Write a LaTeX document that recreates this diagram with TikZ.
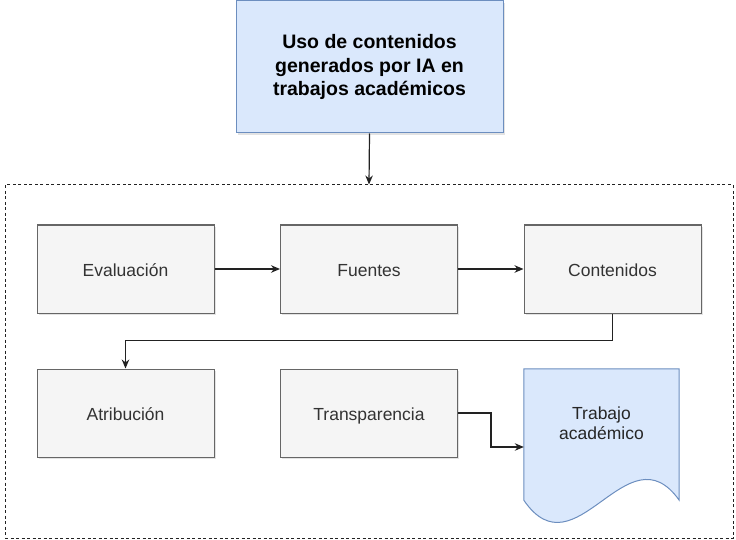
\documentclass[tikz,border=0pt]{standalone}
\usepackage{fontspec}
\setmainfont{Liberation Sans}
\usetikzlibrary{arrows.meta,shadows,calc,backgrounds}
\definecolor{bluefill}{HTML}{DAE8FC}
\definecolor{bluestroke}{HTML}{6C8EBF}
\definecolor{grayfill}{HTML}{F5F5F5}
\definecolor{graystroke}{HTML}{666666}
\definecolor{graytext}{HTML}{333333}
\definecolor{linecol}{HTML}{222222}
\tikzset{
  myshadow/.style={drop shadow={opacity=0.22, shadow xshift=1.8pt, shadow yshift=-1.8pt}},
  titlebox/.style={draw=bluestroke, fill=bluefill, line width=1pt, minimum width=267pt, minimum height=132pt,
    align=center, font=\fontsize{19.5}{23.5}\selectfont\bfseries, text=black, myshadow},
  stepbox/.style={draw=graystroke, fill=grayfill, line width=1pt, minimum width=177pt, minimum height=88pt,
    text height=16pt, text depth=2pt,
    align=center, font=\fontsize{17.5}{20}\selectfont, text=graytext, myshadow},
  frame/.style={draw=linecol, dash pattern=on 3pt off 2.5pt, line width=1pt, minimum width=728pt, minimum height=353pt},
  docbox/.style={minimum width=155pt, minimum height=108pt, align=center, font=\fontsize{17.5}{20}\selectfont, text=black!85},
  conn/.style={draw=linecol, line width=1.2pt, -{Stealth[length=9pt,width=7.5pt]}},
}
\begin{document}
\begin{tikzpicture}[x=1pt,y=-1pt]
\useasboundingbox (0,0) rectangle (736,540);
\node[frame] (cont) at (369,361.5) {};
\node[titlebox] (title) at (369.5,67) {Uso de contenidos\\generados por IA en\\trabajos académicos};
\node[stepbox] (eval) at (125.5,269) {Evaluación};
\node[stepbox] (fuen) at (369,269) {Fuentes};
\node[stepbox] (conten) at (612.5,269) {Contenidos};
\node[stepbox] (atrib) at (125.5,413) {Atribución};
\node[stepbox] (trans) at (369,413) {Transparencia};
\node[docbox] (doc) at (601.5,423) {Trabajo\\académico};
\begin{scope}[on background layer]
\draw[draw=bluestroke, fill=bluefill, line width=1pt]
  (doc.north west) -- (doc.north east) -- ($(doc.south east)+(0,23)$)
  .. controls ($(doc.south east)+(-52,-50)$) and ($(doc.south west)+(52,99)$) .. ($(doc.south west)+(0,23)$) -- cycle;
\end{scope}
\coordinate (docin) at ($(doc.west)+(0,24)$);
\draw[conn] (title.south) -- (cont.north);
\draw[conn] (eval.east) -- (fuen.west);
\draw[conn] (fuen.east) -- (conten.west);
\draw[conn] (conten.south) -- ++(0,27) -| (atrib.north);
\draw[conn] (trans.east) -- ++(33,0) |- (docin);
\end{tikzpicture}
\end{document}
